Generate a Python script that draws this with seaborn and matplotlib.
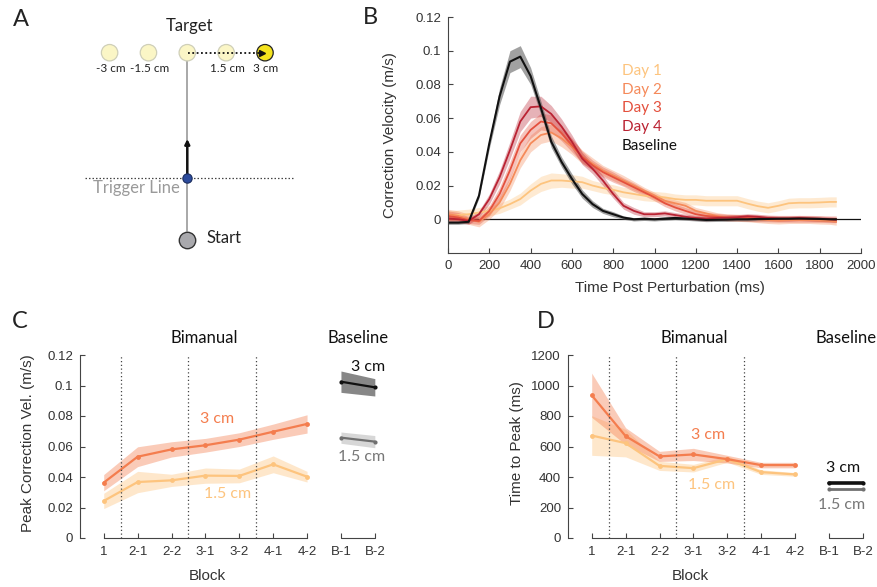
import numpy as np
import pandas as pd
import seaborn as sns
import matplotlib.pyplot as plt
from matplotlib.ticker import FuncFormatter

# -----------------------------------------------
# Data
# -----------------------------------------------

# panel A: target layout
target_cm = [-3, -1.5, 0, 1.5, 3]
target_labels = ['-3 cm', '-1.5 cm', '', '1.5 cm', '3 cm']

# panel B: correction velocity traces (m/s) and their shaded spread
time_ms = [0, 50, 100, 150, 200, 250, 300, 350, 400, 450, 500, 550, 600, 650,
           700, 750, 800, 850, 900, 950, 1000, 1050, 1100, 1150, 1200, 1250,
           1300, 1350, 1400, 1450, 1500, 1550, 1600, 1650, 1700, 1750, 1800,
           1850, 1880]

day1_vel = [0.002, 0.0025, 0.003, 0.004, 0.005, 0.0065, 0.009, 0.012, 0.017,
            0.021, 0.023, 0.023, 0.0225, 0.022, 0.020, 0.0185, 0.0175, 0.016,
            0.015, 0.014, 0.0135, 0.013, 0.012, 0.0115, 0.0115, 0.011, 0.011,
            0.011, 0.011, 0.0093, 0.0078, 0.0068, 0.008, 0.0095, 0.0098,
            0.0098, 0.010, 0.0103, 0.0103]
day1_sem = [0.003, 0.003, 0.003, 0.003, 0.003, 0.003, 0.003, 0.0035, 0.004,
            0.0045, 0.0045, 0.004, 0.004, 0.0035, 0.003, 0.003, 0.003, 0.003,
            0.003, 0.003, 0.003, 0.003, 0.003, 0.003, 0.003, 0.003, 0.003,
            0.003, 0.003, 0.003, 0.003, 0.003, 0.003, 0.003, 0.003, 0.003,
            0.003, 0.003, 0.003]

day2_vel = [0.003, 0.002, 0.0, -0.0015, 0.003, 0.010, 0.021, 0.035, 0.045,
            0.050, 0.0515, 0.048, 0.043, 0.037, 0.033, 0.029, 0.026, 0.023,
            0.020, 0.017, 0.014, 0.011, 0.0095, 0.008, 0.005, 0.0035, 0.002,
            0.0012, 0.0008, 0.0005, 0.0, -0.0005, -0.0008, -0.0005, -0.0005,
            -0.0005, -0.0008, -0.001, -0.0015]
day2_sem = [0.003, 0.003, 0.003, 0.003, 0.003, 0.004, 0.004, 0.0045, 0.005,
            0.005, 0.005, 0.005, 0.0045, 0.004, 0.0035, 0.003, 0.003, 0.003,
            0.0025, 0.002, 0.002, 0.002, 0.002, 0.002, 0.002, 0.002, 0.002,
            0.002, 0.002, 0.002, 0.002, 0.002, 0.002, 0.002, 0.002, 0.002,
            0.002, 0.002, 0.002]

day3_vel = [0.002, 0.001, -0.0005, -0.001, 0.005, 0.015, 0.029, 0.045, 0.053,
            0.058, 0.057, 0.051, 0.044, 0.037, 0.032, 0.028, 0.025, 0.022,
            0.019, 0.016, 0.013, 0.0095, 0.007, 0.005, 0.003, 0.002, 0.0015,
            0.001, 0.001, 0.0008, 0.0005, 0.0005, 0.0003, 0.0003, 0.0003,
            0.0003, 0.0002, 0.0, 0.0]
day3_sem = [0.003, 0.003, 0.002, 0.002, 0.003, 0.004, 0.005, 0.005, 0.005,
            0.005, 0.005, 0.0045, 0.004, 0.0035, 0.003, 0.003, 0.003, 0.0025,
            0.0025, 0.002, 0.002, 0.002, 0.002, 0.002, 0.002, 0.002, 0.002,
            0.002, 0.002, 0.002, 0.002, 0.002, 0.002, 0.002, 0.002, 0.002,
            0.002, 0.002, 0.002]

day4_vel = [0.0005, 0.0, -0.001, 0.003, 0.012, 0.025, 0.041, 0.058, 0.0665,
            0.067, 0.0625, 0.055, 0.046, 0.036, 0.030, 0.023, 0.015, 0.008,
            0.005, 0.003, 0.003, 0.0035, 0.0025, 0.0015, 0.0008, 0.0005,
            0.0008, 0.001, 0.0012, 0.0018, 0.0015, 0.0008, 0.0005, 0.0005,
            0.0008, 0.0005, 0.0003, 0.0, -0.0003]
day4_sem = [0.002, 0.002, 0.002, 0.002, 0.003, 0.004, 0.005, 0.006, 0.0065,
            0.006, 0.005, 0.0045, 0.004, 0.0035, 0.003, 0.003, 0.0025, 0.002,
            0.002, 0.0015, 0.0015, 0.0015, 0.0015, 0.0015, 0.0015, 0.0015,
            0.0015, 0.0015, 0.0015, 0.0015, 0.0015, 0.0015, 0.0015, 0.0015,
            0.0015, 0.0015, 0.0015, 0.0015, 0.0015]

base_vel = [-0.002, -0.002, -0.0015, 0.014, 0.045, 0.073, 0.0935, 0.0965,
            0.085, 0.066, 0.046, 0.034, 0.024, 0.015, 0.009, 0.005, 0.003,
            0.001, 0.0, 0.0003, 0.0, 0.0004, 0.0008, 0.0004, 0.0, -0.0004,
            -0.0003, -0.0002, 0.0, 0.0, 0.0002, 0.0002, 0.0003, 0.0003,
            0.0004, 0.0003, 0.0002, 0.0, 0.0]
base_sem = [0.001, 0.001, 0.001, 0.0015, 0.003, 0.005, 0.0065, 0.0065, 0.005,
            0.004, 0.0035, 0.003, 0.003, 0.0025, 0.002, 0.0015, 0.0015, 0.001,
            0.001, 0.001, 0.001, 0.001, 0.001, 0.001, 0.001, 0.001, 0.001,
            0.001, 0.001, 0.001, 0.001, 0.001, 0.001, 0.001, 0.001, 0.001,
            0.001, 0.001, 0.001]

day_names = ['Day 1', 'Day 2', 'Day 3', 'Day 4']

# panels C and D: per block summaries
block_labels = ['1', '2-1', '2-2', '3-1', '3-2', '4-1', '4-2', 'B-1', 'B-2']

peak_3cm = [0.0363, 0.0533, 0.0581, 0.0608, 0.0645, 0.0697, 0.0748]
peak_3cm_sem = [0.0053, 0.0065, 0.005, 0.0045, 0.0045, 0.005, 0.006]
peak_15cm = [0.0243, 0.0367, 0.0378, 0.0409, 0.0407, 0.0483, 0.0402]
peak_15cm_sem = [0.005, 0.007, 0.004, 0.005, 0.0045, 0.0055, 0.0035]
peak_base_3cm = [0.1025, 0.0988]
peak_base_3cm_sem = [0.007, 0.0057]
peak_base_15cm = [0.0658, 0.0632]
peak_base_15cm_sem = [0.0037, 0.004]

ttp_3cm = [936, 668, 535, 548, 517, 478, 478]
ttp_3cm_sem = [145, 55, 33, 40, 25, 18, 18]
ttp_15cm = [672, 622, 473, 458, 517, 432, 417]
ttp_15cm_sem = [130, 90, 30, 25, 20, 15, 12]
ttp_base_3cm = [358, 358]
ttp_base_3cm_sem = [7, 7]
ttp_base_15cm = [319, 319]
ttp_base_15cm_sem = [5, 5]

# -----------------------------------------------
# Style
# -----------------------------------------------

sns.set_style('ticks')
plt.rcParams['font.family'] = ['Liberation Sans', 'DejaVu Sans']

W, H = 877, 587
TXT = '#333333'
SPINE = '#444444'
ANNOT = ['Lato', 'DejaVu Sans']

day_colors = ['#FDC47E', '#F58A5A', '#E4503D', '#BA2333']
c3 = '#F47D4E'
c15 = '#FDC47E'


def rect(l, t, r, b):
    return [l / W, 1 - b / H, (r - l) / W, (b - t) / H]


def ftext(x, y, s, **kw):
    kw.setdefault('ha', 'center')
    kw.setdefault('va', 'center')
    fig.text(x / W, 1 - y / H, s, **kw)


def style_axes(ax):
    for sp in ['left', 'bottom']:
        ax.spines[sp].set_color(SPINE)
        ax.spines[sp].set_linewidth(0.8)
    ax.tick_params(direction='in', length=3.5, width=0.8, color=SPINE,
                   labelcolor=TXT, labelsize=9.5, pad=5)


fig = plt.figure(figsize=(W / 100, H / 100), dpi=100)

# -----------------------------------------------
# A: task schematic
# -----------------------------------------------

ax_a = fig.add_axes(rect(0, 0, 370, 290))
ax_a.set_xlim(0, 370)
ax_a.set_ylim(290, 0)
ax_a.axis('off')

cx0, px_per_cm, ty = 187.3, 25.9, 52.7
tx = [cx0 + px_per_cm * c for c in target_cm]
faces = ['#FBF6C6'] * 4 + ['#F4E31E']
edges = ['#CFCFB8'] * 4 + ['#222222']

ax_a.plot([cx0, cx0], [56, 231], color='#A8A8A8', lw=1.4, zorder=1)
ax_a.plot([cx0 + 1, 259], [ty, ty], color='#111111', lw=1.3,
          ls=(0, (1, 1.4)), zorder=3)
ax_a.plot([262], [ty], marker='>', ms=5, color='#111111', zorder=4)
ax_a.scatter(tx, [ty] * len(tx), s=140, c=faces, edgecolors=edges,
             linewidths=0.9, zorder=2)
for x, lab in zip(tx, target_labels):
    ax_a.text(x + 1, 68.5, lab, ha='center', va='center', fontsize=8.5,
              color='#222222', family=ANNOT)

ax_a.plot([85, 293], [178, 178], color='#444444', lw=0.9,
          ls=(0, (1.2, 1.6)), zorder=1)
ax_a.annotate('', xy=(cx0, 139), xytext=(cx0, 178),
              arrowprops=dict(arrowstyle='-|>', color='#111111', lw=1.8,
                              mutation_scale=7, shrinkA=0, shrinkB=0),
              zorder=3)
ax_a.scatter([cx0], [178], s=45, c='#2C4B9C', edgecolors='#1B2D5E',
             linewidths=0.8, zorder=4)
ax_a.scatter([cx0], [240], s=140, c='#A9A9AD', edgecolors='#333333',
             linewidths=1.0, zorder=4)

ftext(189.5, 26, 'Target', fontsize=12, color='#222222', family=ANNOT)
ftext(136, 188.5, 'Trigger Line', fontsize=12, color='#9A9A9A', family=ANNOT)
ftext(206.5, 238, 'Start', fontsize=12, color='#222222', family=ANNOT,
      ha='left')
ftext(21, 20, 'A', fontsize=17, color='#222222', family=ANNOT)

# -----------------------------------------------
# B: correction velocity traces
# -----------------------------------------------

ax_b = fig.add_axes(rect(448, 17, 861, 253))
traces = [(day1_vel, day1_sem), (day2_vel, day2_sem),
          (day3_vel, day3_sem), (day4_vel, day4_sem)]
t = np.array(time_ms)
for (v, s), col in zip(traces, day_colors):
    v, s = np.array(v), np.array(s)
    ax_b.fill_between(t, v - s, v + s, color=col, alpha=0.35, lw=0)
    sns.lineplot(x=t, y=v, color=col, lw=1.3, ax=ax_b)

bv, bs = np.array(base_vel), np.array(base_sem)
ax_b.fill_between(t, bv - bs, bv + bs, color='#555555', alpha=0.55, lw=0)
sns.lineplot(x=t, y=bv, color='#111111', lw=1.5, ax=ax_b)
ax_b.axhline(0, color='#111111', lw=0.9, zorder=0)

ax_b.set_xlim(0, 2000)
ax_b.set_ylim(-0.02, 0.12)
ax_b.set_xticks(range(0, 2001, 200))
ax_b.set_yticks([0, 0.02, 0.04, 0.06, 0.08, 0.1, 0.12])
ax_b.yaxis.set_major_formatter(FuncFormatter(lambda y, _: f'{y:g}'))
ax_b.set_xlabel('')
ax_b.set_ylabel('')
sns.despine(ax=ax_b)
style_axes(ax_b)

ftext(390, 135, 'Correction Velocity (m/s)', rotation=90, fontsize=11,
      color=TXT)
ftext(670, 288, 'Time Post Perturbation (ms)', fontsize=11, color=TXT)
ftext(370, 18, 'B', fontsize=17, color='#222222', family=ANNOT)

for i, (name, col) in enumerate(zip(day_names + ['Baseline'],
                                    day_colors + ['#111111'])):
    ftext(622, 71 + 18.7 * i, name, fontsize=11, color=col, family=ANNOT,
          ha='left')

# -----------------------------------------------
# C and D: block summaries
# -----------------------------------------------

pos = np.arange(1, len(block_labels) + 1)


def block_panel(ax, bim3, bim3_s, bim15, bim15_s, b3, b3_s, b15, b15_s,
                ymax, base_lw):
    xb, xs = pos[:7], pos[7:]
    for vals, sem, col, a in [(bim15, bim15_s, c15, 0.4),
                              (bim3, bim3_s, c3, 0.4)]:
        vals, sem = np.array(vals), np.array(sem)
        ax.fill_between(xb, vals - sem, vals + sem, color=col, alpha=a, lw=0)
        sns.lineplot(x=xb, y=vals, color=col, lw=1.6, marker='o',
                     markersize=3.5, markeredgewidth=0, ax=ax)
    for vals, sem, col, band, a, lw in [
            (b15, b15_s, '#707070', '#BDBDBD', 0.6, base_lw[1]),
            (b3, b3_s, '#111111', '#555555', 0.7, base_lw[0])]:
        vals, sem = np.array(vals), np.array(sem)
        ax.fill_between(xs, vals - sem, vals + sem, color=band, alpha=a, lw=0)
        sns.lineplot(x=xs, y=vals, color=col, lw=lw, marker='o',
                     markersize=3, markeredgewidth=0, ax=ax)

    ax.vlines([1.5, 3.5, 5.5], 0, ymax, colors='#444444', lw=0.9,
              linestyles=(0, (1, 2)))
    ax.set_xlim(0.3, 9.3)
    ax.set_ylim(0, ymax)
    ax.set_xticks(pos, block_labels)
    ax.set_xlabel('')
    ax.set_ylabel('')
    sns.despine(ax=ax)
    ax.spines['bottom'].set_bounds(1, 7)
    ax.plot([8, 9], [0, 0], color=SPINE, lw=0.8, clip_on=False)
    style_axes(ax)
    ax.tick_params(axis='x', pad=6)


ax_c = fig.add_axes(rect(80, 355, 385, 538))
block_panel(ax_c, peak_3cm, peak_3cm_sem, peak_15cm, peak_15cm_sem,
            peak_base_3cm, peak_base_3cm_sem, peak_base_15cm,
            peak_base_15cm_sem, 0.12, (1.6, 1.6))
ax_c.set_yticks([0, 0.02, 0.04, 0.06, 0.08, 0.1, 0.12])
ax_c.yaxis.set_major_formatter(FuncFormatter(lambda y, _: f'{y:g}'))

ax_d = fig.add_axes(rect(568, 355, 873, 538))
block_panel(ax_d, ttp_3cm, ttp_3cm_sem, ttp_15cm, ttp_15cm_sem,
            ttp_base_3cm, ttp_base_3cm_sem, ttp_base_15cm, ttp_base_15cm_sem,
            1200, (2.6, 2.0))
ax_d.set_yticks(range(0, 1201, 200))

# titles, labels and annotations
ftext(20, 322, 'C', fontsize=17, color='#222222', family=ANNOT)
ftext(546, 322, 'D', fontsize=17, color='#222222', family=ANNOT)
for xb, xs in [(204, 358), (694, 846)]:
    ftext(xb, 338, 'Bimanual', fontsize=12, color='#111111', family=ANNOT)
    ftext(xs, 338, 'Baseline', fontsize=12, color='#111111', family=ANNOT)
ftext(28, 443, 'Peak Correction Vel. (m/s)', rotation=90, fontsize=11,
      color=TXT)
ftext(517, 443, 'Time to Peak (ms)', rotation=90, fontsize=11, color=TXT)
ftext(207, 576, 'Block', fontsize=11, color=TXT)
ftext(690, 576, 'Block', fontsize=11, color=TXT)

ftext(217, 419, '3 cm', fontsize=11.5, color=c3, family=ANNOT)
ftext(228, 494, '1.5 cm', fontsize=11.5, color=c15, family=ANNOT)
ftext(368, 367, '3 cm', fontsize=11.5, color='#111111', family=ANNOT)
ftext(362, 457, '1.5 cm', fontsize=11.5, color='#777777', family=ANNOT)

ftext(708, 435, '3 cm', fontsize=11.5, color=c3, family=ANNOT)
ftext(712, 485, '1.5 cm', fontsize=11.5, color=c15, family=ANNOT)
ftext(843, 468, '3 cm', fontsize=11.5, color='#111111', family=ANNOT)
ftext(842, 505, '1.5 cm', fontsize=11.5, color='#777777', family=ANNOT)

fig.savefig('out.png', dpi=100)
